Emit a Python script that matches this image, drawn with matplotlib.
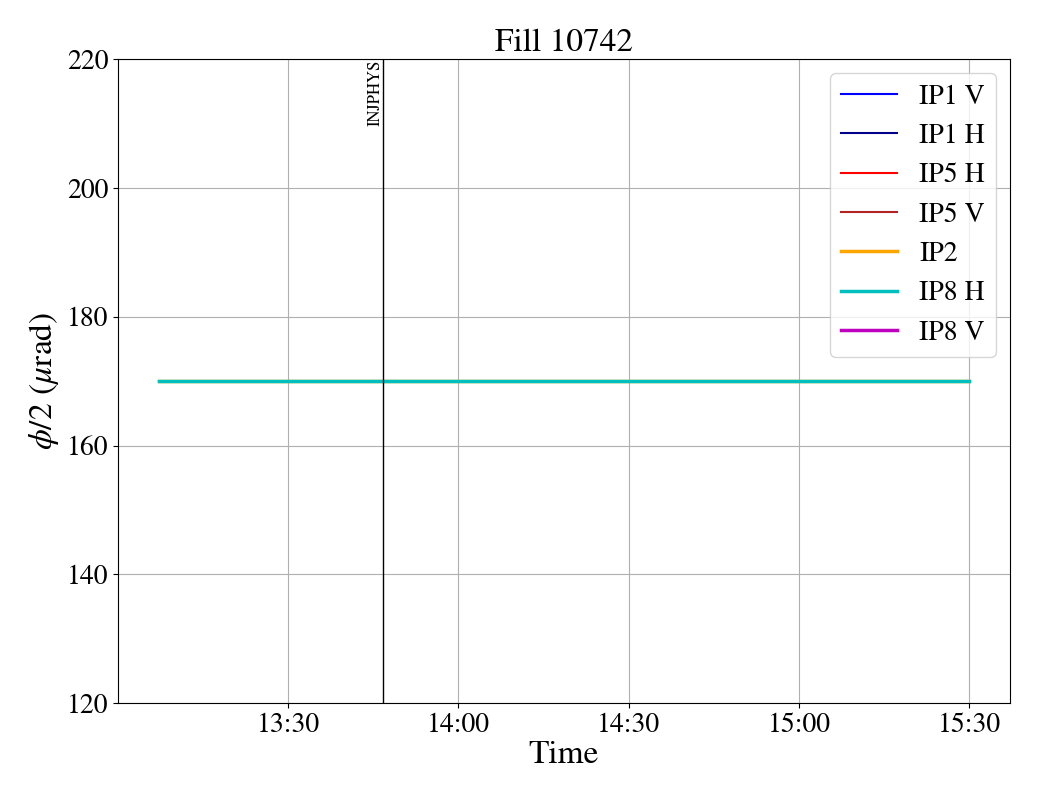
"""Crossing angle plot for one fill."""

import matplotlib

matplotlib.use("Agg")
import matplotlib.dates as mdates
import matplotlib.pyplot as plt
import pandas as pd

plt.rcParams["font.family"] = ["STIXGeneral", "DejaVu Serif"]
plt.rcParams["mathtext.fontset"] = "stix"

fill_number = 10742
times = pd.to_datetime(["2024-06-10 13:07:10", "2024-06-10 15:30:00"])
ip2 = [170.0, 170.0]
ip8_h = [170.0, 170.0]
empty_t = pd.to_datetime([])
injphys_time = pd.Timestamp("2024-06-10 13:46:45")

series = [
    ("IP1 V", empty_t, [], "blue", 1.5),
    ("IP1 H", empty_t, [], "darkblue", 1.5),
    ("IP5 H", empty_t, [], "red", 1.5),
    ("IP5 V", empty_t, [], "firebrick", 1.5),
    ("IP2", times, ip2, "orange", 2.5),
    ("IP8 H", times, ip8_h, "c", 2.5),
    ("IP8 V", empty_t, [], "m", 2.5),
]

fig, ax = plt.subplots(figsize=(10.4, 8), dpi=100)
for label, t, v, color, lw in series:
    ax.plot(t, v, color=color, lw=lw, label=label)

ax.axvline(injphys_time, color="k", lw=1)
ax.text(injphys_time, 220, "INJPHYS", rotation=90, ha="right", va="top",
        fontsize=12)

ax.set_ylim(120, 220)
ax.xaxis.set_major_locator(mdates.MinuteLocator(byminute=[0, 30]))
ax.xaxis.set_major_formatter(mdates.DateFormatter("%H:%M"))
ax.tick_params(labelsize=20)
ax.set_xlabel("Time", fontsize=24, labelpad=1.5)
ax.set_ylabel(r"$\phi/2$ ($\mu$rad)", fontsize=24)
ax.set_title(f"Fill {fill_number}", fontsize=24)
ax.grid(True)
ax.legend(loc="upper right", fontsize=20)

fig.subplots_adjust(left=0.1135, right=0.971, top=0.926, bottom=0.121)
fig.savefig("out.png")
